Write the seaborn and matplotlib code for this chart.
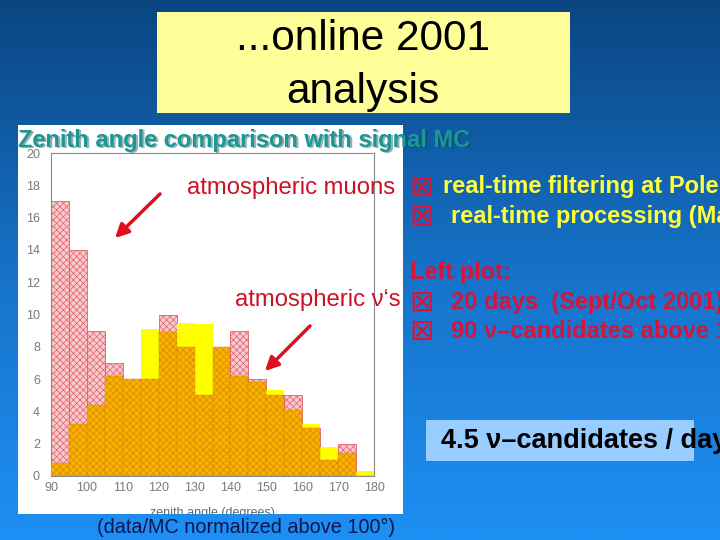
import numpy as np
import seaborn as sns
import matplotlib.pyplot as plt
from matplotlib.patches import Rectangle
from matplotlib.colors import LinearSegmentedColormap

# --- Global Configuration ---
sns.set_style('white')
plt.rcParams['font.family'] = ['Liberation Sans', 'DejaVu Sans']
plt.rcParams['hatch.linewidth'] = 0.5

# --- Data ---
angle_bins = [90, 95, 100, 105, 110, 115, 120, 125, 130, 135,
              140, 145, 150, 155, 160, 165, 170, 175, 180]
data_counts = [17, 14, 9, 7, 6, 6, 10, 8, 5, 8, 9, 6, 5, 5, 3, 1, 2, 0]
mc_signal = [0.8, 3.2, 4.4, 6.2, 6.0, 9.1, 8.9, 9.5, 9.4, 8.0,
             6.2, 5.8, 5.3, 4.1, 3.2, 1.8, 1.4, 0.3]
x_ticks = [90, 100, 110, 120, 130, 140, 150, 160, 170, 180]
y_ticks = [0, 2, 4, 6, 8, 10, 12, 14, 16, 18, 20]

bin_centers = [(a + b) / 2 for a, b in zip(angle_bins[:-1], angle_bins[1:])]
overlap = np.minimum(data_counts, mc_signal)

fig = plt.figure(figsize=(7.2, 5.4), dpi=100)

# --- Slide background (pixel coordinates) ---
bg = fig.add_axes([0, 0, 1, 1])
grad = np.linspace(0, 1, 256).reshape(-1, 1)
slide_cmap = LinearSegmentedColormap.from_list('slide', ['#0b4581', '#1672c8', '#1e8ff4'])
bg.imshow(grad, cmap=slide_cmap, extent=[0, 720, 540, 0], aspect='auto', zorder=0)
bg.set_xlim(0, 720)
bg.set_ylim(540, 0)
bg.axis('off')

panel = Rectangle((18, 125), 385, 389, facecolor='white', edgecolor='none', zorder=1)
bg.add_patch(panel)
bg.add_patch(Rectangle((157, 12), 413, 101, facecolor='#ffff99', edgecolor='none', zorder=1))
bg.add_patch(Rectangle((426, 420), 268, 41, facecolor='#99ccff', edgecolor='none', zorder=1))

# --- Histogram ---
ax = fig.add_axes([51 / 720, 1 - 476 / 540, 323 / 720, 323 / 540])
ax.set_facecolor('white')
sns.histplot(x=bin_centers, weights=data_counts, bins=angle_bins, element='bars',
             facecolor='#f7cacc', edgecolor='#e0606c', linewidth=0.6, hatch='xxxxx',
             alpha=1, ax=ax, zorder=1)
sns.histplot(x=bin_centers, weights=mc_signal, bins=angle_bins, element='bars',
             facecolor='#ffff00', edgecolor='none', linewidth=0, alpha=1, ax=ax, zorder=2)
sns.histplot(x=bin_centers, weights=overlap, bins=angle_bins, element='bars',
             facecolor='#f6b300', edgecolor='#e08600', linewidth=0.3, hatch='xxxxx',
             alpha=1, ax=ax, zorder=3)

ax.set_xlim(90, 180)
ax.set_ylim(0, 20)
ax.set_xticks(x_ticks)
ax.set_yticks(y_ticks)
ax.set_xticks(np.arange(90, 181, 2), minor=True)
ax.set_yticks(np.arange(0, 20.1, 0.5), minor=True)
ax.tick_params(which='both', direction='in', colors='#7a7a7a', width=0.6)
ax.tick_params(which='major', length=6, labelsize=9)
ax.tick_params(which='minor', length=3)
ax.tick_params(axis='y', pad=8)
ax.tick_params(axis='x', pad=4)
for s in ax.spines.values():
    s.set_color('#8a8a8a')
    s.set_linewidth(0.8)
ax.set_ylabel('')
ax.set_xlabel('zenith angle (degrees)', fontsize=9, color='#666666')
ax.xaxis.set_label_coords(0.5, -0.095)
ax.xaxis.label.set_clip_path(panel)

# --- Overlay texts and arrows ---
ov = fig.add_axes([0, 0, 1, 1])
ov.set_xlim(0, 720)
ov.set_ylim(540, 0)
ov.axis('off')

ov.text(363, 39, '...online 2001', fontsize=30.5, ha='center', va='center', color='black')
ov.text(363, 92, 'analysis', fontsize=30.5, ha='center', va='center', color='black')

heading = 'Zenith angle comparison with signal MC'
ov.text(19.5, 141.5, heading, fontsize=17, fontweight='bold', color='#0b3b4a',
        alpha=0.4, va='center')
ov.text(18, 140, heading, fontsize=17, fontweight='bold', color='#1a9893', va='center')

red = '#cc1026'
ov.text(395, 188, 'atmospheric muons', fontsize=17.2, color=red, ha='right', va='center')
ov.text(401, 300, 'atmospheric \u03bd\u2018s', fontsize=17.2, color=red, ha='right', va='center')
ov.annotate('', xy=(113, 240), xytext=(162, 192),
            arrowprops=dict(arrowstyle='-|>', color='#dd1020', lw=2.5, mutation_scale=20))
ov.annotate('', xy=(263, 373), xytext=(312, 324),
            arrowprops=dict(arrowstyle='-|>', color='#dd1020', lw=2.5, mutation_scale=20))

icon = '\u22a0'
yellow = '#ffff3a'
bullet_red = '#d8143a'
bsize = 17
ov.text(409, 188, icon, fontsize=21, color=bullet_red, va='center')
ov.text(443, 187, 'real-time filtering at Pole', fontsize=bsize, fontweight='bold',
        color=yellow, va='center')
ov.text(409, 217, icon, fontsize=21, color=bullet_red, va='center')
ov.text(451, 216, 'real-time processing (Madison)', fontsize=bsize, fontweight='bold',
        color=yellow, va='center')
ov.text(410, 272, 'Left plot:', fontsize=bsize, fontweight='bold', color=bullet_red, va='center')
ov.text(409, 303, icon, fontsize=21, color=bullet_red, va='center')
ov.text(451, 302, '20 days  (Sept/Oct 2001)', fontsize=bsize, fontweight='bold',
        color=bullet_red, va='center')
ov.text(409, 332, icon, fontsize=21, color=bullet_red, va='center')
ov.text(451, 331, '90 \u03bd\u2013candidates above 100\u00b0', fontsize=bsize, fontweight='bold',
        color=bullet_red, va='center')

ov.text(441, 441, '4.5 \u03bd\u2013candidates / day', fontsize=19.5, fontweight='bold',
        color='black', va='center')
ov.text(246, 527, '(data/MC normalized above 100\u00b0)', fontsize=14.3, color='#0b1652',
        ha='center', va='center')

fig.savefig('out.png', dpi=100)
